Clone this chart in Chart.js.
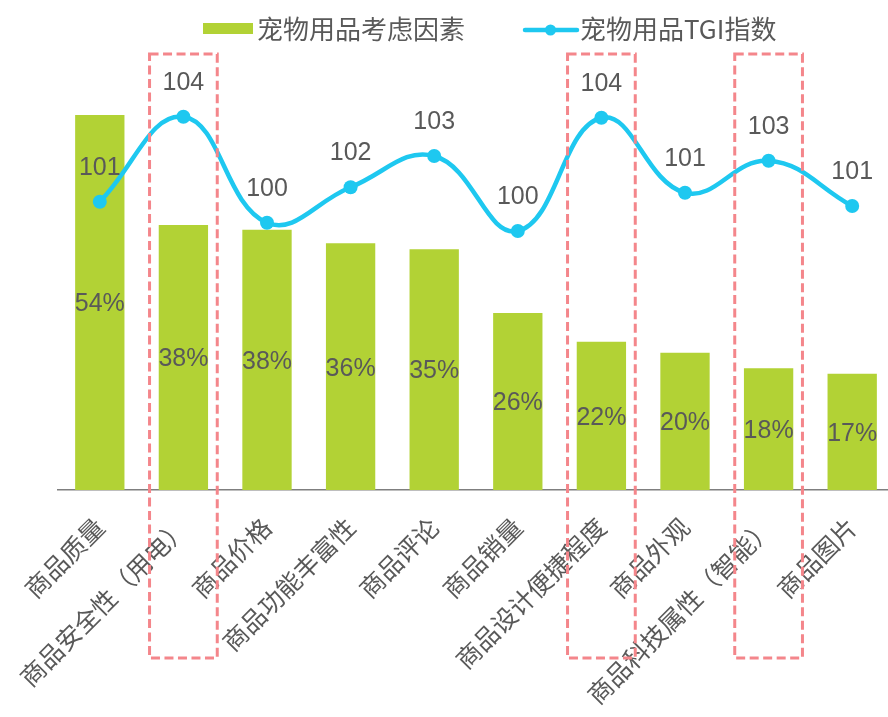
<!DOCTYPE html>
<html><head><meta charset="utf-8">
<script src="https://cdn.jsdelivr.net/npm/chart.js@4.4.0/dist/chart.umd.min.js"></script>
<style>
html,body{margin:0;padding:0;overflow:hidden;background:#fff;width:888px;height:717px}
#wrap{position:relative;width:894px;height:717px}
canvas{display:block}
</style></head>
<body><div id="wrap"><canvas id="c" width="894" height="717"></canvas></div>
<script>
// ---- data ----
const categories = ['商品质量','商品安全性（用电）','商品价格','商品功能丰富性','商品评论','商品销量','商品设计便捷程度','商品外观','商品科技属性（智能）','商品图片'];
const shareValues = [54.35, 38.4, 37.7, 35.75, 34.9, 25.65, 21.5, 19.9, 17.64, 16.86];
const tgiValues = [101.03, 104.43, 100.19, 101.61, 102.86, 99.86, 104.39, 101.39, 102.67, 100.86];
const highlightedIndexes = [1, 6, 8];
const seriesNames = ['宠物用品考虑因素', '宠物用品TGI指数'];

// ---- style ----
const GREEN = '#B2D235';
const CYAN = '#1EC8F0';
const TEXT = '#595959';
const RED = '#F4868B';
const NUMFONT = '"Liberation Sans", "Noto Sans CJK SC", sans-serif';
const CJKFONT = '"Noto Sans CJK SC", sans-serif';

const labelPlugin = {
  id: 'valueLabels',
  afterDatasetsDraw(chart) {
    const ctx = chart.ctx;
    ctx.save();
    ctx.fillStyle = TEXT;
    ctx.font = '25px ' + NUMFONT;
    ctx.textAlign = 'center';
    ctx.textBaseline = 'middle';
    const barMeta = chart.getDatasetMeta(0);
    barMeta.data.forEach((el, i) => {
      const v = chart.data.datasets[0].data[i];
      ctx.fillText(Math.round(v) + '%', el.x, (el.y + el.base) / 2 + 2);
    });
    const lineMeta = chart.getDatasetMeta(1);
    lineMeta.data.forEach((el, i) => {
      const v = chart.data.datasets[1].data[i];
      ctx.fillText(String(Math.round(v)), el.x, el.y - 34);
    });
    ctx.restore();
  }
};

const boxPlugin = {
  id: 'highlightBoxes',
  afterDraw(chart) {
    const ctx = chart.ctx;
    const xs = chart.scales.x;
    const area = chart.chartArea;
    const cw = (area.right - area.left) / categories.length;
    ctx.save();
    ctx.strokeStyle = RED;
    ctx.lineWidth = 3;
    ctx.setLineDash([9, 4.5]);
    highlightedIndexes.forEach(i => {
      const cx = xs.getPixelForValue(i);
      const half = cw * 0.405;
      const top = area.top - 22;
      const bottom = area.bottom + 168;
      ctx.beginPath();
      ctx.rect(cx - half, top, half * 2, bottom - top);
      ctx.stroke();
    });
    ctx.restore();
  }
};

const legendPlugin = {
  id: 'customLegend',
  afterDraw(chart) {
    const ctx = chart.ctx;
    ctx.save();
    ctx.fillStyle = GREEN;
    ctx.fillRect(203, 23, 50, 11);
    ctx.fillStyle = TEXT;
    ctx.font = '26px ' + CJKFONT;
    ctx.textAlign = 'left';
    ctx.textBaseline = 'middle';
    ctx.fillText(seriesNames[0], 257, 29);
    ctx.strokeStyle = CYAN;
    ctx.lineWidth = 4.5;
    ctx.lineCap = 'round';
    ctx.beginPath();
    ctx.moveTo(525, 30); ctx.lineTo(577, 30);
    ctx.stroke();
    ctx.fillStyle = CYAN;
    ctx.beginPath();
    ctx.arc(550.5, 30, 5.5, 0, Math.PI * 2);
    ctx.fill();
    ctx.fillStyle = TEXT;
    ctx.font = '26px "Noto Sans CJK SC", "Liberation Sans", sans-serif';
    ctx.fillText(seriesNames[1], 580, 29);
    ctx.restore();
  }
};

new Chart(document.getElementById('c'), {
  data: {
    labels: categories,
    datasets: [
      {
        type: 'bar',
        label: seriesNames[0],
        data: shareValues,
        backgroundColor: GREEN,
        borderWidth: 0,
        barPercentage: 0.59,
        categoryPercentage: 1,
        yAxisID: 'y',
        order: 2
      },
      {
        type: 'line',
        label: seriesNames[1],
        data: tgiValues,
        borderColor: CYAN,
        backgroundColor: CYAN,
        borderWidth: 4.5,
        pointRadius: 7,
        pointBorderWidth: 0,
        pointBackgroundColor: CYAN,
        tension: 0.42,
        yAxisID: 'y1',
        order: 1
      }
    ]
  },
  options: {
    responsive: false,
    maintainAspectRatio: false,
    devicePixelRatio: 1,
    animation: false,
    layout: { autoPadding: false, padding: { top: 76, left: 58, right: 0, bottom: 0 } },
    plugins: {
      legend: { display: false },
      tooltip: { enabled: false }
    },
    scales: {
      x: {
        offset: true,
        grid: { display: false, drawTicks: false },
        border: { display: true, color: '#7F7F7F', width: 1.5 },
        ticks: {
          color: TEXT,
          font: { family: CJKFONT, size: 25 },
          minRotation: 45,
          maxRotation: 45,
          autoSkip: false,
          padding: 22
        },
        afterFit(scale) {
          scale.height = 227;
          scale.paddingLeft = 0;
          scale.paddingRight = 0;
        }
      },
      y: {
        display: false,
        min: 0,
        max: 60
      },
      y1: {
        display: false,
        min: 89.5,
        max: 106.06
      }
    }
  },
  plugins: [labelPlugin, boxPlugin, legendPlugin]
});
</script>
</body></html>
